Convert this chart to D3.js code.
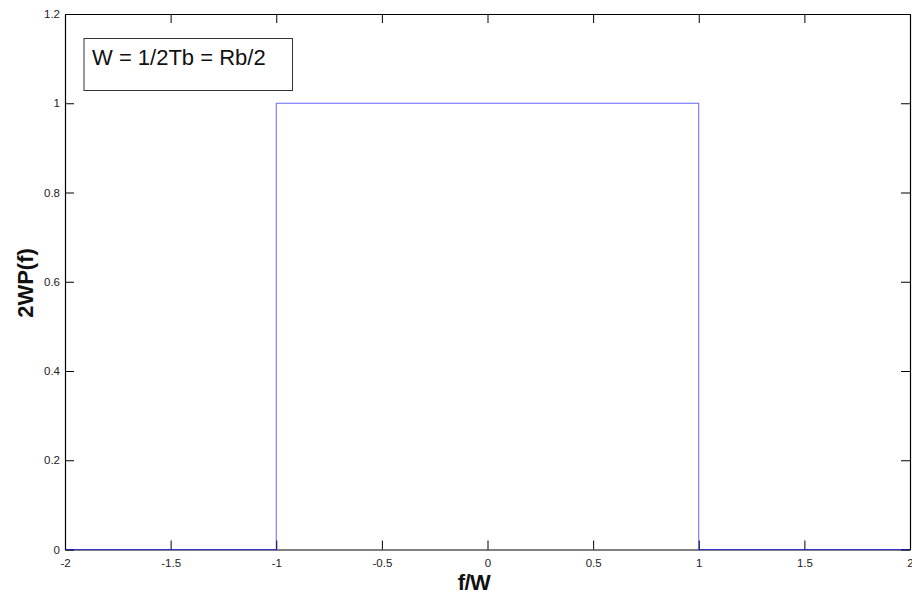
<!DOCTYPE html>
<html>
<head>
<meta charset="utf-8">
<script src="https://cdn.jsdelivr.net/npm/d3@7"></script>
<style>
  html, body { margin: 0; padding: 0; background: #fff; }
  svg { display: block; }
  text { font-family: Arial, "Liberation Sans", sans-serif; }
</style>
</head>
<body>
<svg id="chart" width="912" height="596"></svg>
<script>
// Normalised spectrum of the ideal Nyquist pulse: rectangle of height 1 on |f/W| <= 1
const freq = [-2, -1, -1, 1, 1, 2];
const power = [0, 0, 1, 1, 0, 0];
const xTicks = [-2, -1.5, -1, -0.5, 0, 0.5, 1, 1.5, 2];
const yTicks = [0, 0.2, 0.4, 0.6, 0.8, 1, 1.2];
const legendText = "W = 1/2Tb = Rb/2";

const svg = d3.select("#chart");
const plot = { left: 65, right: 910, top: 14, bottom: 549.5 };

const x = d3.scaleLinear().domain([-2, 2]).range([plot.left, plot.right]);
const y = d3.scaleLinear().domain([0, 1.2]).range([plot.bottom, plot.top]);

const tickLen = 9;
// plain hyphen-minus for negative tick labels
const locale = d3.formatLocale({ decimal: ".", thousands: ",", grouping: [3], currency: ["$", ""], minus: "-" });
const fmt = locale.format("~g");

// Axes: ticks point inward on all four sides, labels only bottom/left
const axisB = d3.axisBottom(x).tickValues(xTicks).tickSizeInner(-tickLen).tickSizeOuter(0).tickPadding(9).tickFormat(fmt);
const axisT = d3.axisTop(x).tickValues(xTicks).tickSizeInner(-tickLen).tickSizeOuter(0).tickFormat("");
const axisL = d3.axisLeft(y).tickValues(yTicks).tickSizeInner(-tickLen).tickSizeOuter(0).tickPadding(5).tickFormat(fmt);
const axisR = d3.axisRight(y).tickValues(yTicks).tickSizeInner(-tickLen).tickSizeOuter(0).tickFormat("");

function styleAxis(g) {
  g.select(".domain").attr("stroke", "#000").attr("stroke-width", 1.2);
  g.selectAll(".tick line").attr("stroke", "#000").attr("stroke-width", 1);
  g.selectAll(".tick text").attr("fill", "#222").style("font-size", "11.5px")
    .style("font-family", "Arial, 'Liberation Sans', sans-serif");
}

svg.append("g").attr("transform", `translate(0,${plot.bottom})`).call(axisB).call(styleAxis);
svg.append("g").attr("transform", `translate(0,${plot.top})`).call(axisT).call(styleAxis);
svg.append("g").attr("transform", `translate(${plot.left},0)`).call(axisL).call(styleAxis);
svg.append("g").attr("transform", `translate(${plot.right},0)`).call(axisR).call(styleAxis);

// Spectrum trace
const pts = freq.map((f, i) => [f, power[i]]);
svg.append("path")
  .datum(pts)
  .attr("fill", "none")
  .attr("stroke", "#0000ff")
  .attr("stroke-opacity", 0.6)
  .attr("stroke-width", 1)
  .attr("d", d3.line().x(d => x(d[0])).y(d => y(d[1])));

// Axis titles
svg.append("text")
  .attr("x", 474)
  .attr("y", 590)
  .attr("text-anchor", "middle")
  .style("font-size", "22px").style("font-weight", "bold")
  .style("letter-spacing", "-0.5px")
  .attr("fill", "#111")
  .text("f/W");

svg.append("text")
  .attr("transform", "translate(33,283) rotate(-90)")
  .attr("text-anchor", "middle")
  .style("font-size", "22px").style("font-weight", "bold")
  .attr("fill", "#111")
  .text("2WP(f)");

// Annotation box
const box = { x: 84, y: 38.5, w: 208.5, h: 52 };
svg.append("rect")
  .attr("x", box.x).attr("y", box.y).attr("width", box.w).attr("height", box.h)
  .attr("fill", "#fff").attr("stroke", "#333").attr("stroke-width", 1);
svg.append("text")
  .attr("x", box.x + 8).attr("y", box.y + 26.5)
  .style("font-size", "22px")
  .attr("fill", "#111")
  .text(legendText);
</script>
</body>
</html>
